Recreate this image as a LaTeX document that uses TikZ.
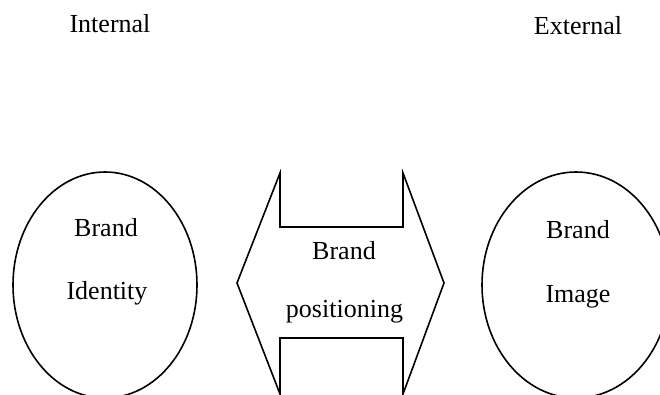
\documentclass[tikz,border=0pt]{standalone}
\usepackage{fontspec}
\setmainfont{Liberation Serif}
\usetikzlibrary{shapes.geometric}
\begin{document}
\begin{tikzpicture}[x=1pt,y=-1pt,
  lbl/.style={anchor=base,inner sep=0pt,font=\fontsize{26}{31}\selectfont},
  oval/.style={draw,line width=1.6pt,ellipse,inner sep=0pt,minimum width=#1,minimum height=226pt},
  arrowshape/.style={draw,line width=1.6pt,line join=miter}]
\useasboundingbox (0,0) rectangle (660,394);
% headings
\node[lbl] (int) at (110,32) {Internal};
\node[lbl] (ext) at (578,34) {External};
% ellipses
\node[oval=184pt] (idE) at (105,285) {};
\node[oval=188pt] (imgE) at (576,285) {};
\node[lbl] (b1) at (106,236) {Brand};
\node[lbl] (id) at (107,299) {Identity};
\node[lbl] (b3) at (578,238) {Brand};
\node[lbl] (im) at (578,302) {Image};
% double arrow
\coordinate (ltip) at (237,283);
\coordinate (rtip) at (444,283);
\draw[arrowshape] (280,173) -- (280,227) -- (403,227) -- (403,173) -- (rtip)
  -- (403,394) -- (403,338) -- (280,338) -- (280,394) -- (ltip) -- cycle;
\node[lbl] (b2) at (344,259) {Brand};
\node[lbl] (pos) at (344.5,317) {positioning};
\end{tikzpicture}
\end{document}
